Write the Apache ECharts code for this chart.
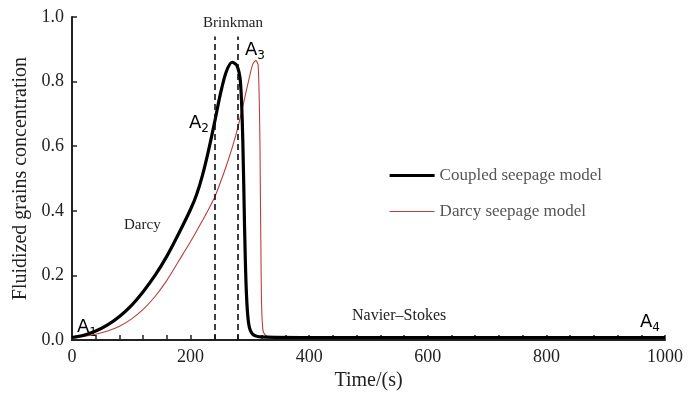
<!DOCTYPE html>
<html><head><meta charset="utf-8">
<script src="https://cdn.jsdelivr.net/npm/echarts@6/dist/echarts.min.js"></script>
<style>html,body{margin:0;padding:0;background:#fff}#c{width:700px;height:396px}</style>
</head><body><div id="c"></div>
<script>
const seriesNames = ['Coupled seepage model', 'Darcy seepage model'];
const coupledT = [0,20,40,60,80,100,120,140,160,180,200,210,220,230,240,250,260,270,278,284,288,291,294,298,305,320,400,1000];
const coupledV = [0.008,0.015,0.028,0.047,0.073,0.107,0.15,0.2,0.26,0.33,0.405,0.45,0.51,0.585,0.67,0.76,0.83,0.86,0.85,0.80,0.62,0.35,0.15,0.05,0.018,0.01,0.008,0.008];
const darcyT = [0,20,40,60,80,100,120,140,160,180,200,220,240,250,260,270,280,290,300,305,310,314,317,319,322,330,400,1000];
const darcyV = [0.008,0.011,0.018,0.028,0.043,0.065,0.095,0.135,0.185,0.245,0.305,0.37,0.44,0.487,0.538,0.595,0.66,0.74,0.82,0.855,0.865,0.85,0.6,0.2,0.03,0.012,0.01,0.01];
const boundaryT = [240, 280];
const boundaryTop = 0.94;

const serif = '"Liberation Serif", "DejaVu Serif", serif';
const sans = '"DejaVu Sans", "Liberation Sans", sans-serif';

const chart = echarts.init(document.getElementById('c'));
const zip = (a, b) => a.map((t, i) => [t, b[i]]);
const sub = (letter, n) => '{a|' + letter + '}{s|' + n + '}';
const richA = { a: { fontFamily: sans, fontSize: 18, color: '#111' }, s: { fontFamily: sans, fontSize: 12, color: '#111', padding: [11, 0, 0, 0] } };

chart.setOption({
  animation: false,
  grid: { left: 72, right: 35, top: 17, bottom: 50 },
  legend: {
    orient: 'vertical', left: 388, top: 167, padding: 0, itemGap: 19, itemWidth: 45, itemHeight: 14,
    textStyle: { fontFamily: serif, fontSize: 17, color: '#555' },
    itemStyle: { opacity: 0 },
    data: [
      { name: seriesNames[0], lineStyle: { width: 3.2, color: '#000' } },
      { name: seriesNames[1], lineStyle: { width: 1.2, color: '#b8403c' } }
    ]
  },
  xAxis: {
    type: 'value', min: 0, max: 1000, interval: 200,
    name: 'Time/(s)', nameLocation: 'middle', nameGap: 29,
    nameTextStyle: { fontFamily: serif, fontSize: 20, color: '#222' },
    axisLine: { lineStyle: { color: '#222', width: 2 } },
    axisTick: { inside: true, length: 5, lineStyle: { color: '#222', width: 1.5 } },
    minorTick: { show: true, splitNumber: 5, length: 5, lineStyle: { color: '#222', width: 1.5 } },
    axisLabel: { fontFamily: serif, fontSize: 18, color: '#222', margin: 8, formatter: v => String(v) },
    splitLine: { show: false }
  },
  yAxis: {
    type: 'value', min: 0, max: 1.0, interval: 0.2,
    name: 'Fluidized grains concentration', nameLocation: 'middle', nameGap: 40,
    nameTextStyle: { fontFamily: serif, fontSize: 20, color: '#222' },
    axisLine: { show: true, lineStyle: { color: '#222', width: 2 } },
    axisTick: { show: true, inside: true, length: 5, lineStyle: { color: '#222', width: 1.5 } },
    axisLabel: { fontFamily: serif, fontSize: 18, color: '#222', margin: 8, formatter: v => v.toFixed(1) },
    splitLine: { show: false }
  },
  series: [
    {
      name: seriesNames[0], type: 'line', data: zip(coupledT, coupledV),
      symbol: 'none', smooth: 0.3,
      lineStyle: { color: '#000', width: 3.2 }, itemStyle: { color: '#000' }, z: 3,
      markLine: {
        silent: true, symbol: 'none', label: { show: false },
        lineStyle: { color: '#111', type: [6, 4], width: 1.6 },
        data: boundaryT.map(t => [{ coord: [t, 0] }, { coord: [t, boundaryTop] }])
      }
    },
    {
      name: seriesNames[1], type: 'line', data: zip(darcyT, darcyV),
      symbol: 'none', smooth: 0.3,
      lineStyle: { color: '#b8403c', width: 1.1 }, itemStyle: { color: '#b8403c' }, z: 2
    }
  ],
  graphic: [
    { type: 'text', left: 203, top: 16, style: { text: 'Brinkman', font: '15px ' + serif, fill: '#222' } },
    { type: 'text', left: 245, top: 41, style: { text: sub('A', 3), rich: richA } },
    { type: 'text', left: 189, top: 114, style: { text: sub('A', 2), rich: richA } },
    { type: 'text', left: 77, top: 318, style: { text: sub('A', 1), rich: richA } },
    { type: 'text', left: 640, top: 313, style: { text: sub('A', 4), rich: richA } },
    { type: 'text', left: 124, top: 218, style: { text: 'Darcy', font: '15px ' + serif, fill: '#222' } },
    { type: 'text', left: 352, top: 308, style: { text: 'Navier–Stokes', font: '16px ' + serif, fill: '#222' } }
  ]
});
</script></body></html>
